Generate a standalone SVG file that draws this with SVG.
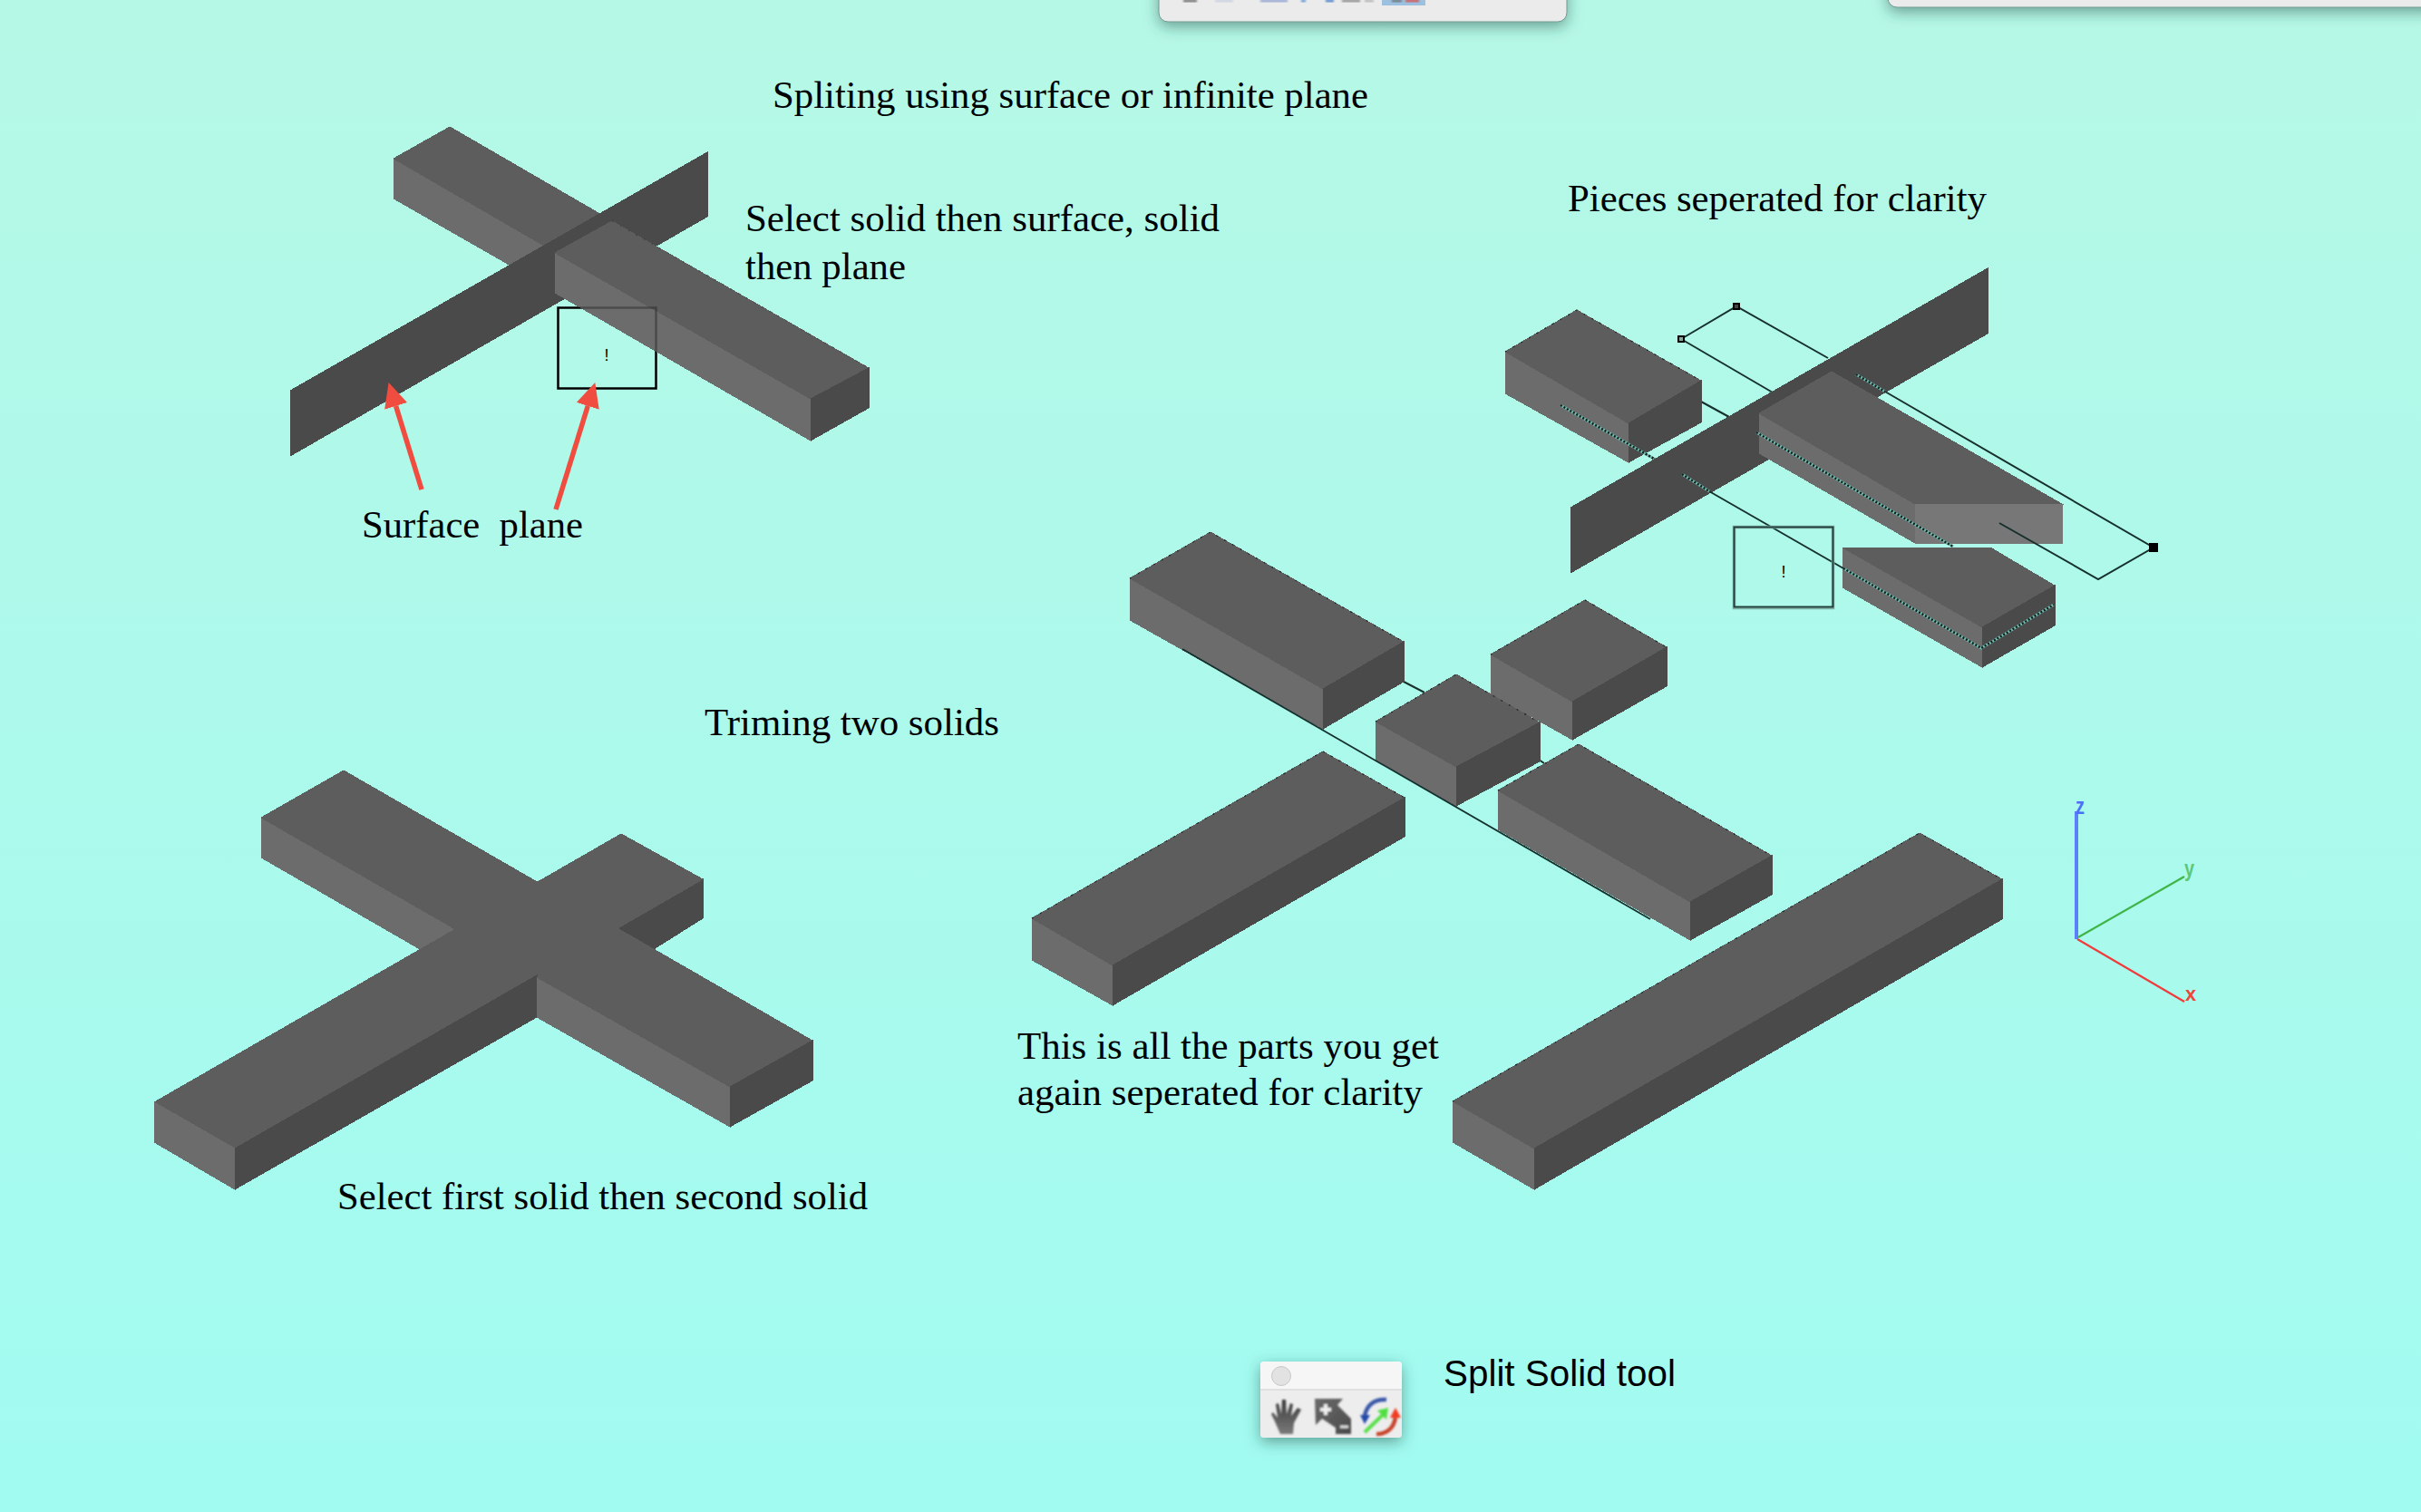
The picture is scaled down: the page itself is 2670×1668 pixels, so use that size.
<svg xmlns="http://www.w3.org/2000/svg" width="2670" height="1668" viewBox="0 0 2670 1668">
<style>
.t{fill:#5d5d5d;stroke:#5d5d5d}.l{fill:#6c6c6c;stroke:#6c6c6c}.r{fill:#4a4a4a;stroke:#4a4a4a}.p{fill:#4a4a4a;stroke:#4a4a4a}
.g{fill:#777;stroke:#777}
polygon{shape-rendering:crispEdges;stroke-width:1}
.e{fill:none;stroke:#1c2423;stroke-width:1.2;stroke-dasharray:2 8}
.ln{fill:none;stroke:#16302c;stroke-width:2}
.dt{fill:none;stroke:#70b8ac;stroke-width:3}
.dd{fill:none;stroke:#101c1a;stroke-width:2.5;stroke-dasharray:2 2}
.tx{font-family:"Liberation Serif","Times New Roman",serif;font-size:43px;fill:#000}
.sx{font-family:"Liberation Sans",Arial,sans-serif;font-size:40px;fill:#000}
.ax{font-family:"Liberation Sans",Arial,sans-serif;font-weight:bold}
.ar{stroke:#f04c3f;stroke-width:5.5;fill:none;marker-end:url(#ah)}
</style>
<defs>
<linearGradient id="bg" x1="0" y1="0" x2="0" y2="1"><stop offset="0" stop-color="#b6f8e6"/><stop offset="1" stop-color="#a1fbf1"/></linearGradient>
<linearGradient id="hg" x1="0" y1="0" x2="0" y2="1"><stop offset="0" stop-color="#3c3c3c"/><stop offset="1" stop-color="#7a7a7a"/></linearGradient>
<linearGradient id="mg" x1="0" y1="0" x2="1" y2="1"><stop offset="0" stop-color="#6a6a6a"/><stop offset="1" stop-color="#4a4a4a"/></linearGradient>
<marker id="ah" markerUnits="userSpaceOnUse" markerWidth="30" markerHeight="28" refX="0" refY="13" orient="auto"><path d="M0,0 L27,13 L0,26 Z" fill="#f04c3f"/></marker>
<filter id="sh" x="-20%" y="-50%" width="140%" height="220%"><feDropShadow dx="0" dy="5" stdDeviation="8" flood-color="#1c4a40" flood-opacity="0.5"/></filter>
<filter id="bl" x="-20%" y="-20%" width="140%" height="140%"><feGaussianBlur stdDeviation="0.8"/></filter>
</defs>
<rect width="2670" height="1668" fill="url(#bg)"/>

<g id="panel-top-center">
<rect x="1278" y="-30" width="450" height="54" rx="10" fill="#ebebeb" stroke="#6f9a90" stroke-width="1" filter="url(#sh)"/>
<rect x="1524" y="0" width="48" height="6" fill="#9cc0e0"/>
<g filter="url(#bl)"><rect x="1305" y="0" width="15" height="2" fill="#555"/><rect x="1340" y="0" width="20" height="2" fill="#c4cbe0"/><rect x="1390" y="0" width="30" height="2" fill="#7f94cc"/><rect x="1435" y="0" width="5" height="2" fill="#3f7fd0"/><rect x="1462" y="0" width="9" height="2" fill="#2a68c4"/><rect x="1480" y="0" width="20" height="2" fill="#777"/><rect x="1505" y="0" width="10" height="2" fill="#aaa"/><rect x="1535" y="0" width="11" height="2" fill="#666"/><rect x="1550" y="0" width="15" height="2" fill="#e23c30"/></g>
</g>
<g id="panel-top-right"><rect x="2082" y="-30" width="620" height="38" rx="10" fill="#ebebeb" stroke="#6f9a90" stroke-width="1" filter="url(#sh)"/></g>

<text class="tx" x="852" y="119" textLength="657" lengthAdjust="spacingAndGlyphs">Spliting using surface or infinite plane</text>
<text class="tx" x="822" y="255" textLength="523" lengthAdjust="spacingAndGlyphs">Select solid then surface, solid</text>
<text class="tx" x="822" y="308" textLength="177" lengthAdjust="spacingAndGlyphs">then plane</text>
<text class="tx" x="1729" y="233" textLength="462" lengthAdjust="spacingAndGlyphs">Pieces seperated for clarity</text>
<text class="tx" x="399" y="593" textLength="244" lengthAdjust="spacingAndGlyphs" xml:space="preserve">Surface  plane</text>
<text class="tx" x="777" y="811" textLength="325" lengthAdjust="spacingAndGlyphs">Triming two solids</text>
<text class="tx" x="1122" y="1168" textLength="465" lengthAdjust="spacingAndGlyphs">This is all the parts you get</text>
<text class="tx" x="1122" y="1219" textLength="447" lengthAdjust="spacingAndGlyphs">again seperated for clarity</text>
<text class="tx" x="372" y="1334" textLength="585" lengthAdjust="spacingAndGlyphs">Select first solid then second solid</text>
<text class="sx" x="1592" y="1529" textLength="256" lengthAdjust="spacingAndGlyphs">Split Solid tool</text>

<g id="split-surface">
<polygon class="l" points="434,175 605,274 605,317 434,219"/>
<polygon class="t" points="496,140 434,175 605,274 667,239"/>
<polygon class="p" points="780,168 780,239 320,503 320,431"/>
<g id="front-bar">
<polygon class="l" points="612,279 894,440 894,486 612,323"/>
<polygon class="t" points="675,244 612,279 894,440 958,406"/>
<polygon class="r" points="894,440 958,406 958,450 894,486"/>
</g>
<polyline class="e" points="675,244 958,406"/>
<rect x="615.500" y="339.500" width="108" height="89" fill="none" stroke="#000" stroke-width="2.500"/>
<use href="#front-bar" opacity="0.7"/>
<text x="669" y="398" font-family="Liberation Sans, Arial, sans-serif" font-size="18" text-anchor="middle" fill="#000">!</text>
</g>

<g id="connectors">
<line class="ar" x1="465" y1="540" x2="436.600" y2="447.900"/>
<line class="ar" x1="613" y1="562" x2="648.300" y2="447.800"/>
</g>

<g id="pieces-separated">
<polyline class="ln" points="1854,374 1915,338 2016,395"/>
<line class="ln" x1="1854" y1="374" x2="1955" y2="433"/>
<line class="ln" x1="1876" y1="443" x2="1907" y2="460"/>
<line class="ln" x1="1824" y1="506" x2="1855" y2="523"/>
<polygon class="p" points="2192,296 2192,368 1732,632 1732,560"/>
<g id="piece-long">
<polygon class="l" points="1940,456 2112,556 2112,599 1940,500"/>
<polygon class="t" points="2020,410 1940,456 2112,556 2274,556"/>
<polygon class="g" points="2112,556 2274,556 2274,599 2112,599"/>
</g>
<g id="piece-box">
<polygon class="l" points="1660,388 1796,467 1796,510 1660,434"/>
<polygon class="t" points="1739,342 1660,388 1796,467 1876,420"/>
<polygon class="r" points="1796,467 1876,420 1876,466 1796,510"/>
<polyline class="e" points="1660,388 1739,342 1876,420"/>
</g>
<g id="piece-end">
<polygon class="l" points="2032,604 2186,692 2186,736 2032,648"/>
<polygon class="t" points="2032,604 2195,604 2266,646 2186,692"/>
<polygon class="r" points="2186,692 2266,646 2266,690 2186,736"/>
</g>
<g id="section-lines">
<polyline class="ln" points="2079,432 2375,604 2314,639 2205,577"/>
<line class="ln" x1="1885" y1="542" x2="2033" y2="627"/>
<polyline class="dt" points="1721,447 1824,506"/><polyline class="dd" points="1721,447 1824,506"/>
<polyline class="dt" points="1855,523 1885,542"/><polyline class="dd" points="1855,523 1885,542"/>
<polyline class="dt" points="1937,477 2154,603"/><polyline class="dd" points="1937,477 2154,603"/>
<polyline class="dt" points="2047,413 2079,432"/><polyline class="dd" points="2047,413 2079,432"/>
<polyline class="dt" points="2033,627 2185,715 2265,667"/><polyline class="dd" points="2033,627 2185,715 2265,667"/>
</g>
<rect x="1851" y="371" width="6" height="6" fill="#8aa8a0" stroke="#000" stroke-width="2"/>
<rect x="1912" y="335" width="6" height="6" fill="#444" stroke="#000" stroke-width="2"/>
<rect x="2370" y="599" width="10" height="10" fill="#000"/>
<rect x="1912.500" y="581.500" width="109" height="89" fill="none" stroke="#7fb0a6" stroke-width="3.500"/>
<rect x="1912.500" y="581.500" width="109" height="88" fill="none" stroke="#1f3d39" stroke-width="1.800"/>
<text x="1967" y="637" font-family="Liberation Sans, Arial, sans-serif" font-size="18" text-anchor="middle" fill="#000">!</text>
</g>

<g id="parts-separated">
<line class="ln" x1="1548" y1="752" x2="1571" y2="764"/>
<line class="ln" x1="1697" y1="838" x2="1703" y2="842"/>
<g id="part-a">
<polygon class="l" points="1246,638 1459,760 1459,804 1246,684"/>
<polygon class="t" points="1335,587 1246,638 1459,760 1548,708"/>
<polygon class="r" points="1459,760 1548,708 1548,752 1459,804"/>
<polyline class="e" points="1246,638 1335,587 1548,708"/>
</g>
<g id="part-small">
<polygon class="l" points="1644,722 1734,774 1734,816 1644,765"/>
<polygon class="t" points="1748,662 1644,722 1734,774 1838,714"/>
<polygon class="r" points="1734,774 1838,714 1838,757 1734,816"/>
<polyline class="e" points="1644,722 1748,662 1838,714"/>
</g>
<g id="part-center">
<polygon class="l" points="1517,796 1606,846 1606,889 1517,839"/>
<polygon class="t" points="1606,744 1517,796 1606,846 1698,797"/>
<polygon class="r" points="1606,846 1698,797 1698,840 1606,889"/>
<polyline class="e" points="1517,796 1606,744 1698,797"/>
</g>
<g id="part-lower-left">
<polygon class="l" points="1138,1013 1227,1065 1227,1109 1138,1059"/>
<polygon class="t" points="1459,829 1138,1013 1227,1065 1549,880"/>
<polygon class="r" points="1227,1065 1549,880 1549,923 1227,1109"/>
<polyline class="e" points="1138,1013 1459,829 1549,880"/>
</g>
<g id="part-lower-right">
<polygon class="l" points="1652,872 1864,995 1864,1037 1652,915"/>
<polygon class="t" points="1741,821 1652,872 1864,995 1954,944"/>
<polygon class="r" points="1864,995 1954,944 1954,987 1864,1037"/>
<polyline class="e" points="1652,872 1741,821 1954,944"/>
</g>
<g id="part-long">
<polygon class="l" points="1602,1215 1692,1267 1692,1312 1602,1260"/>
<polygon class="t" points="2117,919 1602,1215 1692,1267 2208,970"/>
<polygon class="r" points="1692,1267 2208,970 2208,1014 1692,1312"/>
<polyline class="e" points="1602,1215 2117,919 2208,970"/>
</g>
<line x1="1304" y1="716" x2="1820" y2="1014" stroke="#14302c" stroke-width="1.800"/>
</g>

<g id="trim-solids">
<polygon class="l" points="288,902 505,1027 463,1047 288,946"/>
<polygon class="r" points="775,970 775,1013 721,1047 682,1030 670,1030"/>
<polygon class="t" points="379,850 288,902 805,1199 896,1148"/>
<polygon class="t" points="685,920 170,1216 259,1267 775,970"/>
<polygon class="l" points="170,1216 259,1267 259,1312 170,1260"/>
<polygon class="r" points="259,1267 592,1076 592,1122 259,1312"/>
<polygon class="l" points="592,1078 805,1199 805,1243 592,1122"/>
<polygon class="t" points="592,1078 805,1199 896,1148 682,1027"/>
<polygon class="r" points="805,1199 896,1148 896,1192 805,1243"/>
</g>

<g id="axes" fill="none">
<line x1="2290" y1="895" x2="2290" y2="1036" stroke="#5b80fa" stroke-width="4"/>
<line x1="2292" y1="1034" x2="2409" y2="967" stroke="#3fb548" stroke-width="2.200"/>
<line x1="2291" y1="1036" x2="2409" y2="1105" stroke="#f03c3c" stroke-width="2.200"/>
<text class="ax" x="2289" y="898" font-size="25" fill="#4a70fa" textLength="10" lengthAdjust="spacingAndGlyphs">z</text>
<text class="ax" x="2409" y="967" font-size="25" fill="#5cc878" textLength="11" lengthAdjust="spacingAndGlyphs">y</text>
<text class="ax" x="2410" y="1104" font-size="22" fill="#f0443c" textLength="12" lengthAdjust="spacingAndGlyphs">x</text>
</g>

<g id="split-solid-toolbar">
<rect x="1390" y="1502" width="156" height="84" rx="4" fill="#ededed" filter="url(#sh)"/>
<path d="M1390,1533 V1506 a4,4 0 0 1 4,-4 H1542 a4,4 0 0 1 4,4 V1533 Z" fill="#f6f6f6"/>
<line x1="1390" y1="1533" x2="1546" y2="1533" stroke="#cfcfcf" stroke-width="1"/>
<circle cx="1413" cy="1518" r="10.500" fill="#e2e2e2" stroke="#c8c8c8"/>
<g filter="url(#bl)">
<path d="M1412,1582 L1405,1566 L1402,1560 L1404,1558 L1409,1564 L1407,1549 L1410,1548 L1413,1560 L1414,1544 L1418,1544 L1419,1560 L1423,1548 L1426,1549 L1424,1562 L1431,1553 L1435,1555 L1427,1570 L1426,1582 Z" fill="url(#hg)"/>
<path d="M1450,1543 H1481 L1475,1550 L1490,1565 V1582 H1473 V1575 L1458,1565 L1451,1572 Z" fill="url(#mg)"/>
<path d="M1456,1555 H1468 M1462,1549 V1561" stroke="#eeeeee" stroke-width="4" fill="none"/>
<path d="M1478,1574 H1487" stroke="#e0e0e0" stroke-width="3" fill="none"/>
<path d="M1529,1544 C1515,1543 1507,1551 1505,1562" stroke="#3a58a8" stroke-width="4.500" fill="none"/>
<path d="M1500,1561 L1511,1561 L1505,1571 Z" fill="#2048a8"/>
<path d="M1505,1580 L1528,1558" stroke="#58e048" stroke-width="4" fill="none"/>
<path d="M1519,1556 L1531,1553 L1529,1566 Z" fill="#50e040"/>
<path d="M1518,1582 C1530,1582 1537,1575 1539,1564" stroke="#c8442c" stroke-width="4.500" fill="none"/>
<path d="M1533,1564 L1539,1553 L1545,1564 Z" fill="#f03c20"/>
</g>
</g>
</svg>
